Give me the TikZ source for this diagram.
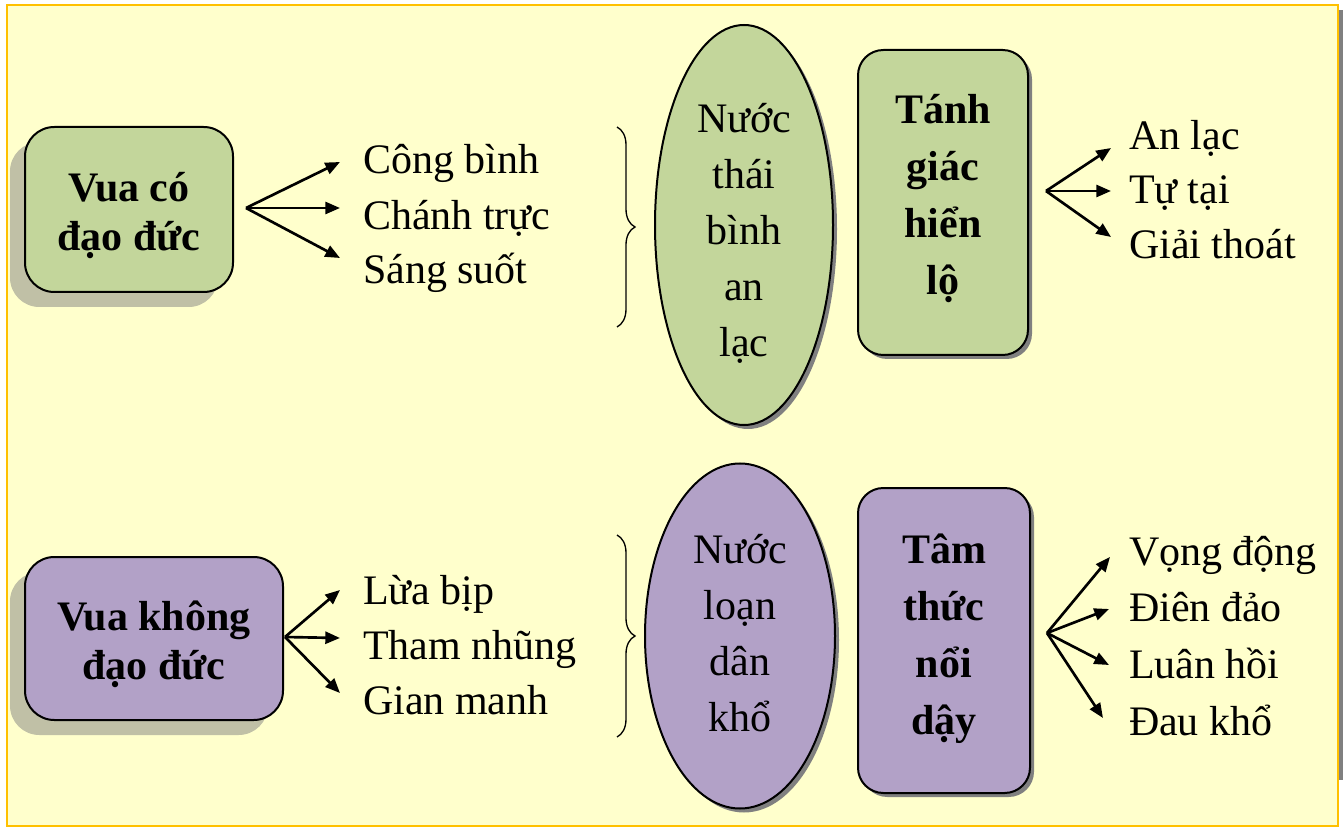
\documentclass[tikz,border=0pt]{standalone}
\usepackage{fontspec}
\setmainfont{Liberation Serif}
\usetikzlibrary{shapes.geometric,shadows,decorations.pathreplacing,arrows.meta,calc}
\definecolor{nenvang}{HTML}{FFFFCC}
\definecolor{vienvang}{HTML}{FFC000}
\definecolor{xanhla}{HTML}{C3D69B}
\definecolor{tim}{HTML}{B2A1C7}
\definecolor{bongnhat}{RGB}{192,192,166}
\definecolor{bongdam}{RGB}{128,128,128}
\begin{document}
\begin{tikzpicture}[x=0.75pt, y=-0.75pt, >={Triangle[length=11pt, width=9pt]}, line width=1.5pt,
  vua/.style={draw, rounded corners=22pt, inner sep=0pt,
    general shadow={fill=bongnhat, shadow xshift=-11.25pt, shadow yshift=-11.25pt}},
  tinh/.style={draw, rounded corners=19pt, inner sep=0pt,
    general shadow={fill=bongdam, shadow xshift=3pt, shadow yshift=-3pt}},
  nuoc/.style={draw, ellipse, inner sep=0pt,
    general shadow={fill=bongdam, shadow xshift=3pt, shadow yshift=-3pt}},
  chudam/.style={inner sep=0pt, align=center, font=\fontsize{31.5}{37}\selectfont\bfseries},
  chuthuong/.style={inner sep=0pt, align=center, font=\fontsize{31.5}{42}\selectfont},
  muc/.style={anchor=west, inner sep=0pt, text height=25pt, text depth=6pt,
    font=\fontsize{31.5}{42}\selectfont},
  muiten/.style={->, line width=2pt},
  ngoac/.style={decorate, decoration={brace, amplitude=13.5pt}, line width=1pt}]

  % ==================== KHUNG NEN ====================
  \fill[white] (0,0) rectangle (1343,827);
  \useasboundingbox (0,0) rectangle (1343,827);
  \fill[bongdam] (1339,10) rectangle (1343,780);
  \draw[vienvang, fill=nenvang] (7,5) rectangle (1338,826);

  % ==================== VUA CO DAO DUC ====================
  \begin{scope}
    % cac khoi chinh
    \node[vua, fill=xanhla, minimum width=156pt, minimum height=123.75pt] (vua1) at (129,209.5) {};
    \node[chudam] (vua1chu) at ($(vua1)+(0,6)$) {Vua có\\đạo đức};
    \node[nuoc, fill=xanhla, minimum width=133.5pt, minimum height=300pt] (nuoc1) at (744,225) {};
    \node[chuthuong] (nuoc1chu) at ($(nuoc1)+(0,8)$) {Nước\\thái\\bình\\an\\lạc};
    \node[tinh, fill=xanhla, minimum width=127.5pt, minimum height=228.75pt] (tinh1) at (943,202.5) {};
    \node[chudam, font=\fontsize{31.5}{42.75}\selectfont\bfseries] (tinh1chu) at ($(tinh1)+(0,-4)$) {Tánh\\giác\\hiển\\lộ};

    % cac muc liet ke
    \node[muc] (cb) at (362,161) {Công bình};
    \node[muc] (ct) at (362,217) {Chánh trực};
    \node[muc] (ss) at (362,271) {Sáng suốt};
    \node[muc] (al) at (1128,137) {An lạc};
    \node[muc] (tt) at (1128,191) {Tự tại};
    \node[muc] (gt) at (1128,246) {Giải thoát};

    % mui ten
    \coordinate (re1) at ($(vua1.east)+(12,-1.5)$);
    \draw[muiten] (re1) -- ($(cb.west)+(-22,1)$);
    \draw[muiten] (re1) -- ($(ct.west)+(-22,-9)$);
    \draw[muiten] (re1) -- ($(ss.west)+(-22,-13)$);
    \coordinate (re2) at ($(tinh1.east)+(17,-11.5)$);
    \draw[muiten] (re2) -- ($(al.west)+(-17,11)$);
    \draw[muiten] (re2) -- ($(tt.west)+(-17,0)$);
    \draw[muiten] (re2) -- ($(gt.west)+(-17,-9)$);

    % ngoac nhon
    \coordinate (ng1a) at (617,127);
    \coordinate (ng1b) at (617,327);
    \draw[ngoac] (ng1a) -- (ng1b);
  \end{scope}

  % ==================== VUA KHONG DAO DUC ====================
  \begin{scope}
    % cac khoi chinh
    \node[vua, fill=tim, minimum width=193.5pt, minimum height=122.25pt] (vua2) at (154,638.5) {};
    \node[chudam] (vua2chu) at ($(vua2)+(0,6)$) {Vua không\\đạo đức};
    \node[nuoc, fill=tim, minimum width=142.5pt, minimum height=258.75pt] (nuoc2) at (740,636) {};
    \node[chuthuong] (nuoc2chu) at ($(nuoc2)+(0,-3)$) {Nước\\loạn\\dân\\khổ};
    \node[tinh, fill=tim, minimum width=129pt, minimum height=228.75pt] (tinh2) at (944,640.5) {};
    \node[chudam, font=\fontsize{31.5}{42.75}\selectfont\bfseries] (tinh2chu) at ($(tinh2)+(0,-2)$) {Tâm\\thức\\nổi\\dậy};

    % cac muc liet ke
    \node[muc] (lb) at (362,592) {Lừa bịp};
    \node[muc] (tn) at (362,647) {Tham nhũng};
    \node[muc] (gm) at (362,702) {Gian manh};
    \node[muc] (vd) at (1128,553) {Vọng động};
    \node[muc] (dd) at (1128,609) {Điên đảo};
    \node[muc] (lh) at (1128,666) {Luân hồi};
    \node[muc] (dk) at (1128,723) {Đau khổ};

    % mui ten
    \coordinate (re3) at ($(vua2.east)+(1,-1.5)$);
    \draw[muiten] (re3) -- ($(lb.west)+(-22,-2)$);
    \draw[muiten] (re3) -- ($(tn.west)+(-22,-9)$);
    \draw[muiten] (re3) -- ($(gm.west)+(-22,-9)$);
    \coordinate (re4) at ($(tinh2.east)+(16,-7.5)$);
    \draw[muiten] (re4) -- ($(vd.west)+(-18,4)$);
    \draw[muiten] (re4) -- ($(dd.west)+(-19,0)$);
    \draw[muiten] (re4) -- ($(lh.west)+(-19,-1)$);
    \draw[muiten] (re4) -- ($(dk.west)+(-25,-5)$);

    % ngoac nhon
    \coordinate (ng2a) at (617,535);
    \coordinate (ng2b) at (617,737);
    \draw[ngoac] (ng2a) -- (ng2b);
  \end{scope}
\end{tikzpicture}
\end{document}
